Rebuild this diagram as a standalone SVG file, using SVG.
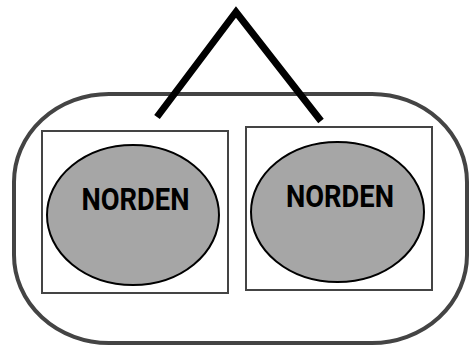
<svg xmlns="http://www.w3.org/2000/svg" width="470" height="347" viewBox="0 0 470 347">
<style>
.box{fill:#fff;stroke:#444;stroke-width:2}
.ell{fill:#a6a6a6;stroke:#000;stroke-width:2}
.lbl{font-family:Roboto,"Liberation Sans",sans-serif;font-weight:bold;font-size:31px;fill:#000;text-anchor:middle}
.conn{fill:none;stroke:#000;stroke-width:7;stroke-linejoin:miter}
</style>
<rect width="470" height="347" fill="#fff"/>
<g id="container">
<rect x="14" y="94" width="453" height="249" rx="95" ry="88" fill="none" stroke="#444" stroke-width="4"/>
</g>
<g id="node-left">
<rect class="box" x="42" y="131" width="186" height="162"/>
<ellipse class="ell" cx="133" cy="215" rx="86" ry="70"/>
<text class="lbl" x="135.5" y="210" textLength="108" lengthAdjust="spacingAndGlyphs">NORDEN</text>
</g>
<g id="node-right">
<rect class="box" x="246" y="127" width="186" height="163"/>
<ellipse class="ell" cx="337.5" cy="212" rx="86.5" ry="70"/>
<text class="lbl" x="340" y="206.5" textLength="108" lengthAdjust="spacingAndGlyphs">NORDEN</text>
</g>
<g id="connectors">
<polyline class="conn" points="157,117 236,12 321,121"/>
</g>
</svg>
